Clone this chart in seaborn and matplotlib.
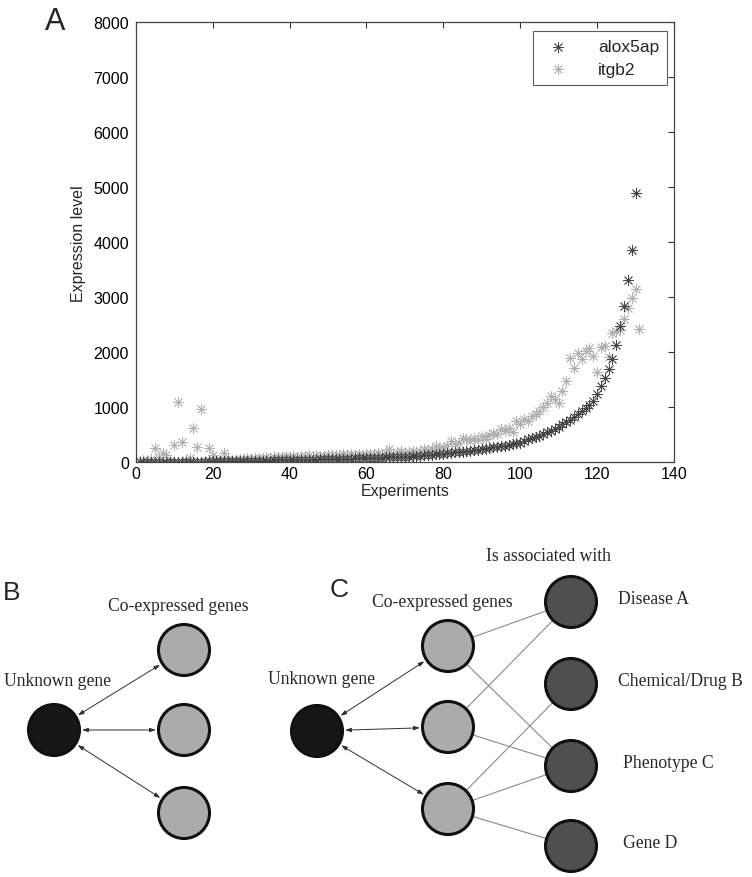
import matplotlib
matplotlib.use('Agg')
import matplotlib.pyplot as plt
import seaborn as sns
import numpy as np
import pandas as pd

# Painel A - niveis de expressao
alox5ap = [0, 2, 3, 4, 5, 5, 6, 7, 8, 8,
           9, 10, 10, 11, 12, 12, 13, 14, 15, 15,
           16, 17, 18, 19, 20, 21, 22, 23, 24, 25,
           26, 27, 29, 30, 31, 33, 34, 36, 37, 39,
           40, 42, 43, 45, 47, 48, 50, 52, 54, 56,
           58, 60, 62, 64, 66, 68, 70, 72, 74, 77,
           79, 82, 84, 87, 90, 92, 95, 97, 99, 100,
           104, 108, 112, 117, 124, 131, 138, 145, 152, 160,
           167, 174, 181, 188, 195, 202, 210, 219, 228, 238,
           249, 260, 272, 283, 295, 305, 318, 330, 345, 360,
           395, 415, 435, 455, 478, 510, 545, 575, 610, 648,
           690, 730, 770, 820, 872, 930, 994, 1050, 1115, 1236,
           1388, 1540, 1690, 1870, 2133, 2478, 2842, 3310, 3855, 4904]

itgb2 = [20, 40, 15, 60, 267, 103, 164, 127, 50, 309,
         1097, 376, 40, 70, 630, 278, 976, 30, 267, 127,
         50, 35, 164, 60, 45, 50, 55, 60, 70, 65,
         75, 80, 70, 90, 85, 95, 100, 90, 110, 105,
         115, 100, 120, 110, 125, 105, 130, 120, 115, 135,
         125, 140, 130, 150, 135, 145, 140, 155, 135, 160,
         150, 145, 165, 155, 170, 240, 160, 180, 200, 175,
         190, 210, 185, 200, 236, 220, 250, 296, 240, 270,
         300, 387, 330, 360, 449, 420, 380, 449, 400, 478,
         430, 500, 540, 520, 600, 570, 630, 560, 751, 700,
         782, 760, 842, 880, 933, 1000, 1085, 1206, 1150, 1085,
         1297, 1479, 1903, 1721, 1994, 1873, 2020, 2085, 1933, 1642,
         2096, 2115, 1909, 2358, 2388, 2400, 2600, 2812, 2982, 3145,
         2430]

df_a = pd.DataFrame({'Experiments': np.arange(1, len(alox5ap) + 1), 'valor': alox5ap})
df_i = pd.DataFrame({'Experiments': np.arange(1, len(itgb2) + 1), 'valor': itgb2})

# Paineis B e C - rotulos
co_rotulos = ['Co-expressed genes', 'Co-expressed genes']
assoc_rotulos = ['Disease A', 'Chemical/Drug B', 'Phenotype C', 'Gene D']
# ligacoes gene co-expresso -> associacao (indices)
ligacoes = [(0, 0), (0, 2), (1, 0), (1, 2), (2, 1), (2, 2), (2, 3)]

sns.set_style('white')
plt.rcParams['font.family'] = ['Liberation Sans', 'DejaVu Sans']

W, H = 752, 878
fig = plt.figure(figsize=(W / 100, H / 100), dpi=100)

# ---------- Painel A ----------
ax = fig.add_axes([135.7 / W, 1 - 463.3 / H, 538.3 / W, 440 / H])
estrela = (8, 2, 0)
sns.scatterplot(data=df_i, x='Experiments', y='valor', marker=estrela, color='#b0b0b0',
                s=55, linewidth=0.6, ax=ax, label='itgb2', zorder=2)
sns.scatterplot(data=df_a, x='Experiments', y='valor', marker=estrela, color='#454545',
                s=55, linewidth=0.6, ax=ax, label='alox5ap', zorder=3)
ax.set_xlim(0, 140)
ax.set_ylim(0, 8000)
ax.set_xticks(range(0, 141, 20))
ax.set_yticks(range(0, 8001, 1000))
ax.tick_params(direction='in', length=4, width=0.8, top=True, right=True,
               labelsize=11.5, colors='#333333', labelcolor='black')
ax.tick_params(axis='x', pad=3)
ax.tick_params(axis='y', pad=5)
for sp in ax.spines.values():
    sp.set_visible(True)
    sp.set_color('#444444')
    sp.set_linewidth(0.9)
ax.set_xlabel('Experiments', fontsize=11.5, labelpad=1)
ax.set_ylabel('Expression level', fontsize=11.5, labelpad=5)
h, l = ax.get_legend_handles_labels()
leg = ax.legend(h[::-1], l[::-1], loc='upper right', bbox_to_anchor=(0.9875, 0.98),
                borderaxespad=0, fontsize=12.5, frameon=True, fancybox=False,
                edgecolor='#333333', borderpad=0.45, handletextpad=1.3,
                labelspacing=0.45, markerscale=1.0, handlelength=2.0)
leg.get_frame().set_linewidth(0.8)
fig.text(45 / W, 1 - 30 / H, 'A', fontsize=22, ha='left', va='baseline')

# ---------- Paineis B e C ----------
axd = fig.add_axes([0, 0, 1, 1 - 520 / H])
axd.set_xlim(0, W)
axd.set_ylim(H, 520)
axd.axis('off')

serif = ['Liberation Serif', 'DejaVu Serif']
fs = 12.7
raio_pt = 26 * 0.72

# posicoes do esquema (pixels)
b_desc = (54, 731)
b_co = [(184, 651), (184, 731), (184, 814)]
c_desc = (317, 732)
c_co = [(448, 647), (448, 728), (448, 810)]
c_assoc = [(571, 603), (571, 685), (571, 767), (571, 847)]
assoc_x_txt = [618, 618, 623, 623]

nos = pd.DataFrame(
    [(b_desc[0], b_desc[1], 'unk'), (c_desc[0], c_desc[1], 'unk')]
    + [(x, y, 'co') for x, y in b_co + c_co]
    + [(x, y, 'assoc') for x, y in c_assoc],
    columns=['x', 'y', 'tipo'])
cores = {'unk': '#161616', 'co': '#ababab', 'assoc': '#4f4f4f'}

# linhas de associacao
for i, j in ligacoes:
    axd.plot([c_co[i][0], c_assoc[j][0]], [c_co[i][1], c_assoc[j][1]],
             color='#8a8a8a', lw=0.8, zorder=1)

# setas duplas
for desc, cos in [(b_desc, b_co), (c_desc, c_co)]:
    for p in cos:
        axd.annotate('', xy=p, xytext=desc,
                     arrowprops=dict(arrowstyle='<|-|>,head_length=0.35,head_width=0.12',
                                     color='#303030', lw=0.7,
                                     shrinkA=raio_pt + 1.5, shrinkB=raio_pt + 1.5),
                     zorder=1)

sns.scatterplot(data=nos, x='x', y='y', hue='tipo', palette=cores, s=1350,
                edgecolor='#111111', linewidth=2.2, legend=False, ax=axd, zorder=3)
axd.axis('off')

for (x, y), t in zip([(178, 607), (442, 603)], co_rotulos):
    axd.text(x, y, t, family=serif, fontsize=fs, ha='center', va='center')
axd.text(57, 682, 'Unknown gene', family=serif, fontsize=fs, ha='center', va='center')
axd.text(321, 680, 'Unknown gene', family=serif, fontsize=fs, ha='center', va='center')
axd.text(548, 557, 'Is associated with', family=serif, fontsize=fs, ha='center', va='center')
for (x, y), tx, t in zip(c_assoc, assoc_x_txt, assoc_rotulos):
    axd.text(tx, y - 3, t, family=serif, fontsize=fs, ha='left', va='center')

fig.text(3 / W, 1 - 600 / H, 'B', fontsize=19, ha='left', va='baseline')
fig.text(330 / W, 1 - 597 / H, 'C', fontsize=19, ha='left', va='baseline')

fig.savefig('out.png', dpi=100)
